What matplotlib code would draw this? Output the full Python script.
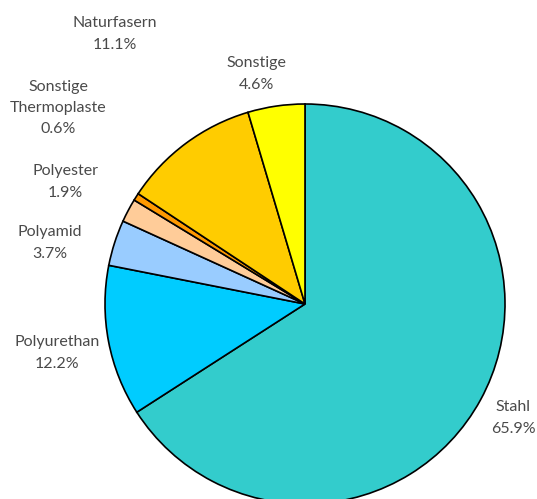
import matplotlib.pyplot as plt

# Anteile der Werkstoffe (im Uhrzeigersinn ab 12 Uhr)
labels = ["Stahl", "Polyurethan", "Polyamid", "Polyester",
          "Sonstige\nThermoplaste", "Naturfasern", "Sonstige"]
values = [65.9, 12.2, 3.7, 1.9, 0.6, 11.1, 4.6]
colors = ["#33CCCC", "#00CCFF", "#99CCFF", "#FFCC99",
          "#FF9900", "#FFCC00", "#FFFF00"]

# Textpositionen in Pixeln (x, y von oben)
label_pos = [(513, 418), (57, 353), (50, 243), (65, 182),
             (58, 108), (115, 34), (256, 74)]

W, H = 537, 499
fig = plt.figure(figsize=(W / 100, H / 100), dpi=100)
ax = fig.add_axes([0, 0, 1, 1])
ax.axis("off")

ax.pie(values, colors=colors, startangle=90, counterclock=False,
       center=(305, H - 304), radius=200,
       wedgeprops=dict(edgecolor="black", linewidth=1.2))
ax.set_xlim(0, W)
ax.set_ylim(0, H)
ax.set_aspect("equal")

for lab, val, (x, y) in zip(labels, values, label_pos):
    ax.text(x, H - y, f"{lab}\n{val}%", ha="center", va="center",
            fontsize=11.5, color="#4a4a4a", family="Lato",
            linespacing=1.65)

fig.savefig("out.png", dpi=100)
